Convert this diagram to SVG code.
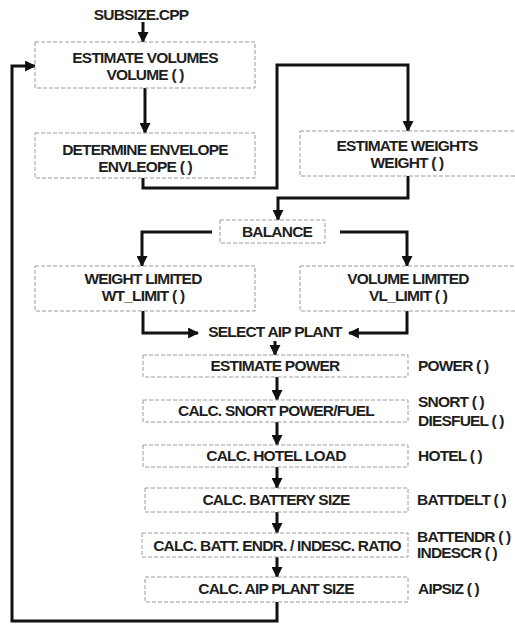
<svg xmlns="http://www.w3.org/2000/svg" width="515" height="624" viewBox="0 0 515 624">
<style>
  .box { fill: #ffffff; stroke: #9a9a9a; stroke-width: 1; stroke-dasharray: 4 2; }
  .t { font-family: "Liberation Sans", Arial, sans-serif; font-weight: bold; font-size: 15.5px; letter-spacing: -0.8px; fill: #1e1e1e; }
  .c { text-anchor: middle; }
  .wire { fill: none; stroke: #111111; stroke-width: 3; stroke-linejoin: miter; }
</style>
<defs>
  <marker id="ah" viewBox="0 0 10 10" refX="9" refY="5" markerWidth="11" markerHeight="11" markerUnits="userSpaceOnUse" orient="auto">
    <path d="M0,0 L10,5 L0,10 z" fill="#111111"/>
  </marker>
</defs>
<rect width="515" height="624" fill="#ffffff"/>

<g id="connectors">
  <path class="wire" marker-end="url(#ah)" d="M143,22 V42"/>
  <path class="wire" marker-end="url(#ah)" d="M145,88 V133"/>
  <path class="wire" marker-end="url(#ah)" d="M143,178 V188 H277 V65 H408 V131"/>
  <path class="wire" marker-end="url(#ah)" d="M408,176 V198 H278 V220"/>
  <path class="wire" marker-end="url(#ah)" d="M212,232 H142 V266"/>
  <path class="wire" marker-end="url(#ah)" d="M340,232 H407 V266"/>
  <path class="wire" marker-end="url(#ah)" d="M143,311 V333 H198"/>
  <path class="wire" marker-end="url(#ah)" d="M407,311 V333 H349"/>
  <path class="wire" marker-end="url(#ah)" d="M275,341 V355"/>
  <path class="wire" marker-end="url(#ah)" d="M277,377 V400"/>
  <path class="wire" marker-end="url(#ah)" d="M277,422 V445"/>
  <path class="wire" marker-end="url(#ah)" d="M277,467 V488"/>
  <path class="wire" marker-end="url(#ah)" d="M277,512 V533"/>
  <path class="wire" marker-end="url(#ah)" d="M277,557 V577"/>
  <path class="wire" marker-end="url(#ah)" d="M277,602 V621 H12 V66 H35"/>
</g>

<g id="subsize">
  <text class="t c" x="141" y="20">SUBSIZE.CPP</text>
</g>

<g id="estimate-volumes">
  <rect class="box" x="35" y="42" width="220" height="46"/>
  <text class="t c" x="145" y="63">ESTIMATE VOLUMES</text>
  <text class="t c" x="145" y="80">VOLUME ( )</text>
</g>

<g id="determine-envelope">
  <rect class="box" x="35" y="133" width="220" height="45"/>
  <text class="t c" x="145" y="155">DETERMINE ENVELOPE</text>
  <text class="t c" x="145" y="172">ENVLEOPE ( )</text>
</g>

<g id="estimate-weights">
  <rect class="box" x="300" y="131" width="220" height="45"/>
  <text class="t c" x="407" y="151">ESTIMATE WEIGHTS</text>
  <text class="t c" x="407" y="168">WEIGHT ( )</text>
</g>

<g id="balance">
  <rect class="box" x="220" y="220" width="105" height="23"/>
  <text class="t c" x="277" y="237">BALANCE</text>
</g>

<g id="weight-limited">
  <rect class="box" x="35" y="266" width="220" height="45"/>
  <text class="t c" x="143" y="284">WEIGHT LIMITED</text>
  <text class="t c" x="143" y="301">WT_LIMIT ( )</text>
</g>

<g id="volume-limited">
  <rect class="box" x="300" y="266" width="220" height="45"/>
  <text class="t c" x="408" y="284">VOLUME LIMITED</text>
  <text class="t c" x="408" y="301">VL_LIMIT ( )</text>
</g>

<g id="select-aip">
  <text class="t c" x="275" y="337">SELECT AIP PLANT</text>
</g>

<g id="estimate-power">
  <rect class="box" x="143" y="355" width="265" height="22"/>
  <text class="t c" x="275" y="371">ESTIMATE POWER</text>
  <text class="t" x="418" y="371">POWER ( )</text>
</g>

<g id="snort">
  <rect class="box" x="143" y="400" width="265" height="22"/>
  <text class="t c" x="276" y="416">CALC. SNORT POWER/FUEL</text>
  <text class="t" x="418" y="407">SNORT ( )</text>
  <text class="t" x="418" y="426">DIESFUEL ( )</text>
</g>

<g id="hotel">
  <rect class="box" x="143" y="445" width="265" height="22"/>
  <text class="t c" x="276" y="461">CALC. HOTEL LOAD</text>
  <text class="t" x="418" y="461">HOTEL ( )</text>
</g>

<g id="battery">
  <rect class="box" x="145" y="488" width="263" height="24"/>
  <text class="t c" x="276" y="505">CALC. BATTERY SIZE</text>
  <text class="t" x="417" y="505">BATTDELT ( )</text>
</g>

<g id="endurance">
  <rect class="box" x="142" y="533" width="266" height="24"/>
  <text class="t c" x="277" y="551">CALC. BATT. ENDR. / INDESC. RATIO</text>
  <text class="t" x="417" y="542">BATTENDR ( )</text>
  <text class="t" x="417" y="558">INDESCR ( )</text>
</g>

<g id="aip-size">
  <rect class="box" x="145" y="577" width="263" height="25"/>
  <text class="t c" x="276" y="594">CALC. AIP PLANT SIZE</text>
  <text class="t" x="418" y="594">AIPSIZ ( )</text>
</g>
</svg>
